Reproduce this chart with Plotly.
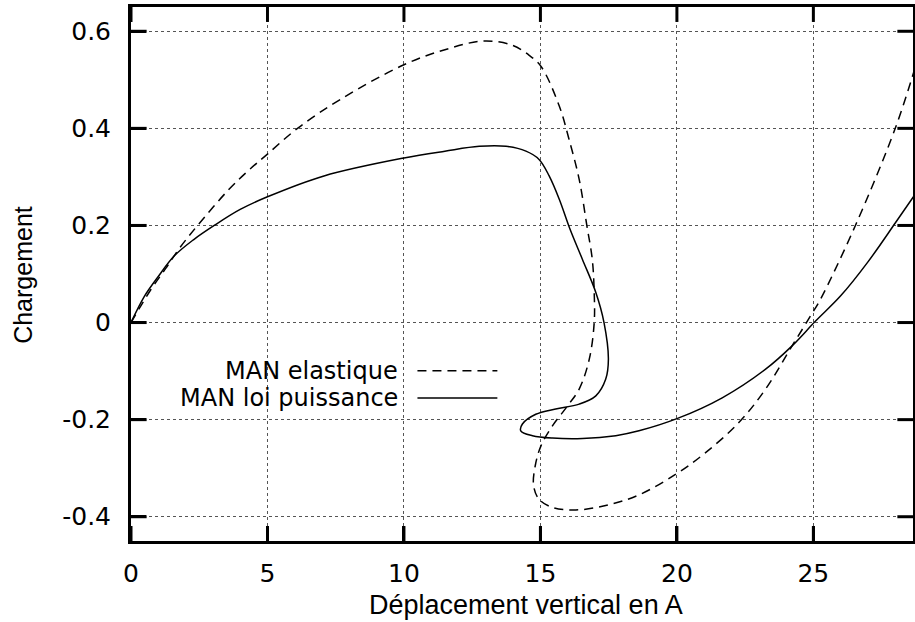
import plotly.graph_objects as go

# ---------------------------------------------------------------- data ---- #

# MAN elastique (dashed curve)
elastique_x = [0, 0.73, 1.28, 1.8, 2.44, 3.6, 4.3, 5.0, 6.1, 7.68, 10.0, 11.5, 12.92,
               13.98, 14.6, 15.03, 15.69, 16.05, 16.42, 16.7, 16.9, 16.97, 16.97,
               16.79, 16.42, 15.99, 15.44, 15.02, 14.81, 14.75, 14.95, 15.44, 16.3,
               17.39, 18.61, 20.0, 21.05, 22.27, 23.25, 24.22, 24.9, 25.26, 26.54,
               28.0, 28.7]
elastique_y = [0, 0.068, 0.112, 0.155, 0.2, 0.275, 0.313, 0.347, 0.4, 0.46, 0.531, 0.562, 0.58,
               0.571, 0.55, 0.527, 0.446, 0.377, 0.295, 0.2, 0.13, 0.062, 0,
               -0.0755, -0.137, -0.172, -0.213, -0.254, -0.295, -0.336, -0.364, -0.381, -0.386,
               -0.377, -0.355, -0.311, -0.268, -0.206, -0.137, -0.048, 0.014, 0.048, 0.2,
               0.4, 0.52]

# MAN loi puissance (solid curve)
puissance_x = [0, 0.49, 1.0, 1.58, 2.3, 3.05, 4.0, 5.0, 7.07, 10.0, 11.5, 12.76,
               13.74, 14.47, 14.95, 15.32, 15.69, 16.1, 16.54, 17.03, 17.33, 17.49,
               17.39, 17.03, 16.42, 15.56, 14.83, 14.34, 14.28, 14.71, 15.44, 16.54,
               17.76, 18.61, 20.0, 21.66, 23.25, 24.22, 25.08, 26.0, 27.0, 28.0, 28.7]
puissance_y = [0, 0.054, 0.095, 0.137, 0.171, 0.2, 0.233, 0.259, 0.302, 0.339, 0.353, 0.363,
               0.363, 0.353, 0.336, 0.302, 0.254, 0.19, 0.13, 0.062, 0, -0.0755,
               -0.117, -0.151, -0.168, -0.178, -0.189, -0.209, -0.223, -0.233, -0.238, -0.239,
               -0.233, -0.223, -0.198, -0.155, -0.096, -0.048, 0.003, 0.055, 0.125, 0.205, 0.262]

x_ticks = [0, 5, 10, 15, 20, 25]
x_ticktext = ["0", "5", "10", "15", "20", "25"]
y_ticks = [0.6, 0.4, 0.2, 0, -0.2, -0.4]
y_ticktext = ["0.6", "0.4", "0.2", "0", "-0.2", "-0.4"]

legend_labels = ["MAN elastique", "MAN loi puissance"]
x_title = 'Déplacement vertical en A'
y_title = 'Chargement'

# --------------------------------------------------------------- figure --- #

fig = go.Figure()

fig.add_trace(go.Scatter(
    x=elastique_x, y=elastique_y,
    mode='lines', name=legend_labels[0],
    line=dict(color='black', width=1.5, dash='9px,6px', shape='spline', smoothing=1.0),
))
fig.add_trace(go.Scatter(
    x=puissance_x, y=puissance_y,
    mode='lines', name=legend_labels[1],
    line=dict(color='black', width=1.5, shape='spline', smoothing=1.0),
))

# gnuplot-style key: text on the left, line sample on the right
key_rows = [0.319, 0.268]
key_dash = ['9px,6px', 'solid']
for label, row, dash in zip(legend_labels, key_rows, key_dash):
    fig.add_annotation(
        x=0.3446, y=row, xref='paper', yref='paper',
        text=label, showarrow=False, xanchor='right', yanchor='middle',
        font=dict(family='DejaVu Sans', size=24, color='black'),
    )
    fig.add_shape(
        type='line', xref='paper', yref='paper',
        x0=0.3663, x1=0.4685, y0=row, y1=row,
        line=dict(color='black', width=1.5, dash=dash),
    )

# thick inside ticks on all four sides of the frame (gnuplot look)
tick_line = dict(color='black', width=3)
for xv in x_ticks:
    fig.add_shape(type='line', xref='x', yref='paper', x0=xv, x1=xv,
                  y0=0, y1=0.028, line=tick_line, layer='above')
    fig.add_shape(type='line', xref='x', yref='paper', x0=xv, x1=xv,
                  y0=1, y1=0.972, line=tick_line, layer='above')
for yv in y_ticks:
    fig.add_shape(type='line', xref='paper', yref='y', x0=0, x1=0.02,
                  y0=yv, y1=yv, line=tick_line, layer='above')
    fig.add_shape(type='line', xref='paper', yref='y', x0=1, x1=0.98,
                  y0=yv, y1=yv, line=tick_line, layer='above')

# axis titles placed by hand so the margins stay fixed
fig.add_annotation(
    x=0.5056, y=-0.119, xref='paper', yref='paper', text=x_title,
    showarrow=False, xanchor='center', yanchor='middle',
    font=dict(family='Liberation Sans', size=27, color='black'),
)
fig.add_annotation(
    x=-0.1384, y=0.498, xref='paper', yref='paper', text=y_title,
    showarrow=False, xanchor='center', yanchor='middle', textangle=-90,
    font=dict(family='Liberation Sans', size=25, color='black'),
)

axis_common = dict(
    showline=True, linecolor='black', linewidth=3, mirror=True,
    ticks='inside', tickcolor='black', tickwidth=3, ticklen=15,
    showgrid=True, gridcolor='#555555', gridwidth=1, griddash='dot',
    zeroline=False, automargin=False,
    tickfont=dict(family='DejaVu Sans', size=25, color='black'),
)

fig.update_xaxes(
    range=[0, 28.65], tickvals=x_ticks, ticktext=x_ticktext,
    ticklabelstandoff=8,
    **axis_common,
)
fig.update_yaxes(
    range=[-0.45, 0.65], tickvals=y_ticks, ticktext=y_ticktext,
    ticklabelstandoff=12,
    **axis_common,
)

fig.update_layout(
    width=915, height=622,
    margin=dict(l=131, r=2, t=7, b=81, autoexpand=False),
    plot_bgcolor='white', paper_bgcolor='white',
    showlegend=False,
)

# drop the page's default body margin so the figure sits at the window corner
fig.write_html("out.html", config={'displayModeBar': False},
               post_script="document.body.style.margin='0';")
